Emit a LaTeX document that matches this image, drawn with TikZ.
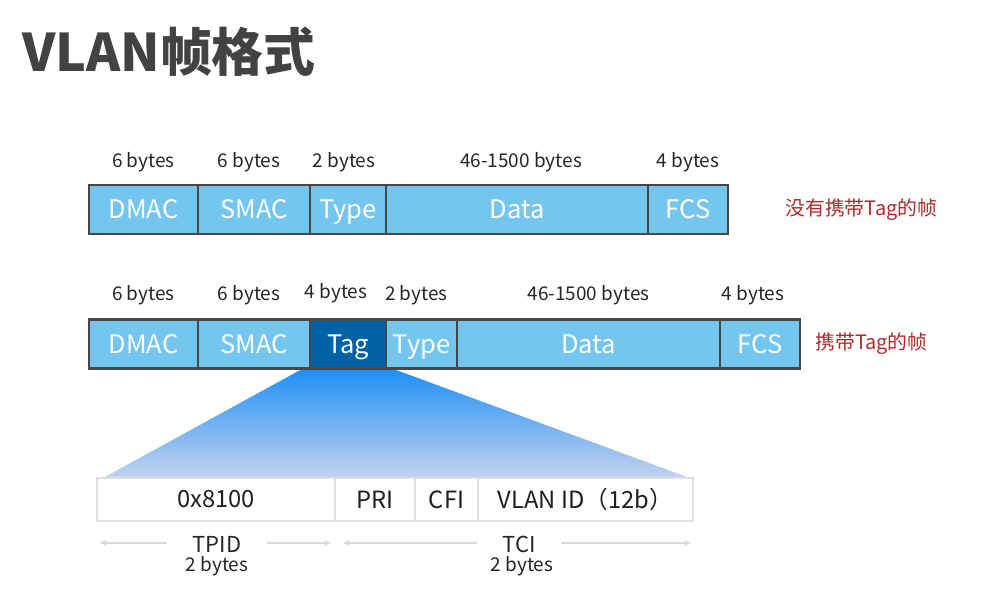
\documentclass[tikz,border=0pt]{standalone}
\usepackage{fontspec}
\setmainfont{Noto Sans CJK SC}
\usetikzlibrary{arrows.meta,calc,positioning,backgrounds}
\definecolor{fieldblue}{HTML}{74C6EF}
\definecolor{tagblue}{HTML}{0062A6}
\definecolor{framegray}{HTML}{474747}
\definecolor{notered}{HTML}{B02A2A}
\definecolor{titlegray}{HTML}{424242}
\definecolor{spangray}{HTML}{D9D9D9}
\definecolor{fadeblue}{HTML}{C3D3EE}
\definecolor{topblue}{HTML}{1E8FF7}
\tikzset{
    field/.style={draw=framegray, fill=fieldblue, line width=1.3pt, text=white,
                  minimum height=0.98cm, inner sep=0pt, outer sep=0pt,
                  text height=10.6pt, text depth=0pt,
                  font=\fontsize{14.5}{16}\selectfont},
    tagfield/.style={field, fill=tagblue},
    sub/.style={draw=black!12, fill=white, line width=0.6pt, text=black!88,
                minimum height=0.86cm, inner sep=0pt, outer sep=0pt,
                font=\fontsize{13.5}{16}\selectfont},
    bytes/.style={font=\fontsize{10.8}{13}\selectfont, text=black!85},
    note/.style={font=\fontsize{11.3}{13}\selectfont, text=notered, anchor=west,
                 inner sep=0pt},
    span/.style={-{Stealth[length=4pt, width=3.5pt]}, draw=spangray, line width=0.8pt},
    spanlbl/.style={font=\fontsize{12.5}{14}\selectfont, text=black!85,
                    inner xsep=0.5cm, inner ysep=0pt},
}

\begin{document}
\begin{tikzpicture}
    \path[use as bounding box] (0,0) rectangle (19.62,-11.98);

    \node[anchor=west, inner sep=0pt, text=titlegray,
          font=\fontsize{29.5}{32}\selectfont\bfseries] (title) at (0.44,-1.04) {VLAN帧格式};

    % frame without tag
    \node[field, minimum width=2.18cm] (dmacA) at (2.87,-4.19) {DMAC};
    \node[field, minimum width=2.24cm, right=0pt of dmacA] (smacA) {SMAC};
    \node[field, minimum width=1.52cm, right=0pt of smacA] (typeA) {Type};
    \node[field, minimum width=5.24cm, right=0pt of typeA] (dataA) {Data};
    \node[field, minimum width=1.60cm, right=0pt of dataA] (fcsA) {FCS};
    \node[note, right=1.14cm of fcsA] (plainnote) {没有携带Tag的帧};

    \node[bytes] (dmacAlen) at ($(dmacA.north)+(0,0.46)$) {6 bytes};
    \node[bytes] (smacAlen) at ($(smacA.north)+(-0.1,0.46)$) {6 bytes};
    \node[bytes] (typeAlen) at ($(typeA.north)+(-0.08,0.46)$) {2 bytes};
    \node[bytes] (dataAlen) at ($(dataA.north)+(0.08,0.46)$) {46-1500 bytes};
    \node[bytes] (fcsAlen) at ($(fcsA.north)+(0,0.46)$) {4 bytes};

    % frame with tag
    \node[field, minimum width=2.18cm] (dmacB) at (2.87,-6.88) {DMAC};
    \node[field, minimum width=2.24cm, right=0pt of dmacB] (smacB) {SMAC};
    \node[tagfield, minimum width=1.52cm, right=0pt of smacB] (tagB) {Tag};
    \node[field, minimum width=1.42cm, right=0pt of tagB] (typeB) {Type};
    \node[field, minimum width=5.26cm, right=0pt of typeB] (dataB) {Data};
    \node[field, minimum width=1.60cm, right=0pt of dataB] (fcsB) {FCS};
    \node[note, right=0.3cm of fcsB] (tagnote) {携带Tag的帧};

    \node[bytes] (dmacBlen) at ($(dmacB.north)+(0,0.48)$) {6 bytes};
    \node[bytes] (smacBlen) at ($(smacB.north)+(-0.1,0.48)$) {6 bytes};
    \node[bytes] (tagBlen) at ($(tagB.north)+(-0.24,0.52)$) {4 bytes};
    \node[bytes] (typeBlen) at ($(typeB.north)+(-0.1,0.48)$) {2 bytes};
    \node[bytes] (dataBlen) at ($(dataB.north)+(0,0.48)$) {46-1500 bytes};
    \node[bytes] (fcsBlen) at ($(fcsB.north)+(-0.14,0.48)$) {4 bytes};

    % tag fields
    \node[sub, minimum width=4.76cm] (tpid) at (4.32,-9.99) {0x8100};
    \node[sub, minimum width=1.60cm, right=0pt of tpid] (pri) {PRI};
    \node[sub, minimum width=1.26cm, right=0pt of pri] (cfi) {CFI};
    \node[sub, minimum width=4.30cm, right=0pt of cfi] (vid) {VLAN ID（12b）};

    \begin{scope}[on background layer]
        \shade[top color=topblue, bottom color=fadeblue]
            ($(tagB.south west)+(-0.14,0)$) -- ($(tagB.south east)+(0.12,0)$)
            -- ($(vid.north east)+(-0.06,0)$) -- ($(tpid.north west)+(0.12,0)$) -- cycle;
    \end{scope}

    % spans below
    \node[spanlbl] (tpidlbl) at (4.34,-10.88) {TPID};
    \node[bytes] (tpidlen) at (4.34,-11.32) {2 bytes};
    \coordinate (tpidL) at (2.0,-10.86);
    \coordinate (tpidR) at (6.62,-10.86);
    \draw[span] (tpidlbl.west |- tpidL) -- (tpidL);
    \draw[span] (tpidlbl.east |- tpidR) -- (tpidR);

    \node[spanlbl] (tcilbl) at (10.38,-10.88) {TCI};
    \node[bytes] (tcilen) at (10.44,-11.32) {2 bytes};
    \coordinate (tciL) at (6.86,-10.86);
    \coordinate (tciR) at (13.82,-10.86);
    \draw[span] (tcilbl.west |- tciL) -- (tciL);
    \draw[span] (tcilbl.east |- tciR) -- (tciR);
\end{tikzpicture}
\end{document}
